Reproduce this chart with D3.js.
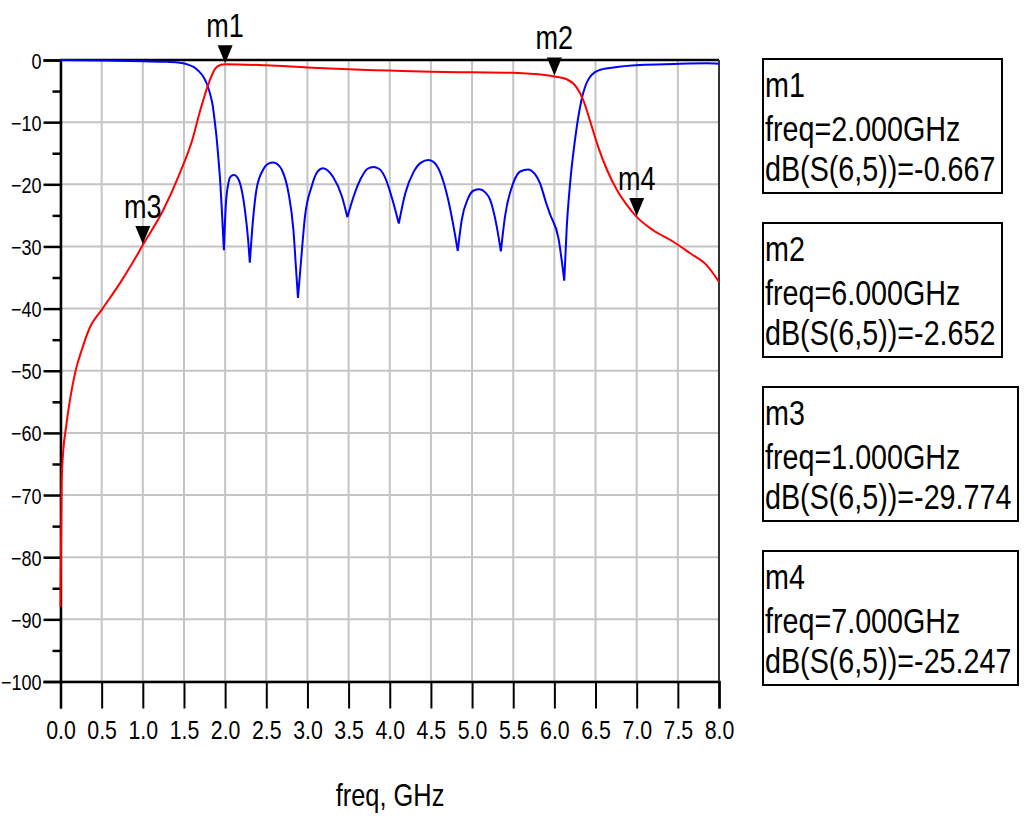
<!DOCTYPE html>
<html><head><meta charset="utf-8">
<script src="https://cdn.jsdelivr.net/npm/d3@7/dist/d3.min.js"></script>
<style>
html,body{margin:0;padding:0;background:#fff;}
svg text{font-family:"Liberation Sans",Arial,sans-serif;fill:#000;}
</style></head>
<body>
<svg id="chart" width="1024" height="824"></svg>
<script>
// ---- data ----
const xTicks = [0,0.5,1,1.5,2,2.5,3,3.5,4,4.5,5,5.5,6,6.5,7,7.5,8];
const xTickLabels = ["0.0","0.5","1.0","1.5","2.0","2.5","3.0","3.5","4.0","4.5","5.0","5.5","6.0","6.5","7.0","7.5","8.0"];
const yTicks = [0,-10,-20,-30,-40,-50,-60,-70,-80,-90,-100];
const yMinorTicks = [-5,-15,-25,-35,-45,-55,-65,-75,-85,-95];
const xTitle = "freq, GHz";

// dB(S(6,5)) - red
const s65Freq = [0.000,0.006,0.014,0.034,0.063,0.115,0.185,0.257,0.358,0.5,0.723,0.85,1.0,1.25,1.45,1.6,1.7,1.8,1.88,1.95,2.0,2.5,3.0,3.5,4.0,4.5,5.0,5.5,5.75,6.0,6.15,6.27,6.35,6.43,6.53,6.64,6.76,6.88,7.0,7.2,7.44,7.65,7.85,8.0];
const s65dB   = [-88,-79,-68,-62.8,-59.5,-54.7,-49.9,-46.7,-43.0,-40.2,-35.9,-33.2,-29.774,-24.1,-18.2,-12.9,-8.0,-3.75,-1.4,-0.75,-0.667,-0.85,-1.2,-1.5,-1.7,-1.9,-1.98,-2.05,-2.25,-2.652,-3.1,-4.4,-6.4,-9.65,-13.9,-17.7,-20.9,-23.3,-25.247,-27.4,-29.2,-31.1,-33.0,-35.7];

// reflection trace - blue
const s55Freq = [0.0,0.5,1.0,1.3,1.45,1.55,1.62,1.68,1.735,1.78,1.816,1.85,1.877,1.9,1.917,1.94,1.958,1.985,2.007,2.04,2.07,2.11,2.15,2.18,2.24,2.28,2.30,2.335,2.38,2.46,2.52,2.585,2.64,2.69,2.77,2.83,2.86,2.885,2.92,2.97,3.05,3.12,3.19,3.25,3.31,3.42,3.485,3.56,3.66,3.73,3.80,3.87,3.94,4.04,4.11,4.19,4.29,4.38,4.47,4.54,4.61,4.71,4.79,4.826,4.875,4.95,5.02,5.09,5.16,5.22,5.30,5.35,5.40,5.50,5.59,5.68,5.76,5.825,5.90,5.95,6.05,6.12,6.15,6.19,6.25,6.33,6.41,6.53,6.72,7.04,7.45,7.85,8.0];
const s55dB   = [0,-0.08,-0.2,-0.3,-0.45,-0.75,-1.15,-1.8,-2.7,-3.9,-5.4,-7.4,-10.2,-13.0,-15.6,-19.5,-23.6,-30.6,-23.6,-19.8,-18.7,-18.5,-18.9,-19.8,-24.1,-29,-32.6,-26.3,-20.9,-17.7,-16.7,-16.5,-16.8,-17.7,-21.4,-27.4,-33.3,-38.3,-32.7,-25.2,-20.4,-18.0,-17.4,-17.8,-18.8,-22.0,-25.3,-22.0,-18.8,-17.5,-17.2,-17.5,-18.8,-22.8,-26.3,-21.4,-18.0,-16.5,-16.1,-16.5,-18.0,-22.5,-27.9,-30.7,-25.7,-22.3,-21.0,-20.8,-21.3,-22.5,-26.8,-30.8,-25.2,-19.8,-17.9,-17.6,-18.3,-19.8,-23.0,-24.9,-28.7,-35.5,-27,-20,-12.9,-6.4,-3.2,-1.7,-1.2,-0.8,-0.64,-0.54,-0.6];

// markers
const markerNames = ["m1","m2","m3","m4"];
const markerFreq  = [2.0,6.0,1.0,7.0];
const markerDB    = [-0.667,-2.652,-29.774,-25.247];

// ---- layout ----
const NARROW = 0.82;
const svg = d3.select("#chart");
const x = d3.scaleLinear().domain([0,8]).range([60.5,719]);
const y = d3.scaleLinear().domain([-100,0]).range([681.5,60]);
const gridColor = "#c4c4c4";

function ntext(parent, tx, ty, str, size, anchor){
  return parent.append("text")
    .attr("transform",`translate(${tx},${ty}) scale(${NARROW},1)`)
    .attr("text-anchor",anchor||"start").attr("font-size",size).text(str);
}

// grid
const grid = svg.append("g");
grid.selectAll("line.gx").data(xTicks).join("line")
  .attr("x1",d=>x(d)).attr("x2",d=>x(d)).attr("y1",y(0)).attr("y2",y(-100))
  .attr("stroke",gridColor).attr("stroke-width",2);
grid.selectAll("line.gy").data(yTicks).join("line")
  .attr("x1",x(0)).attr("x2",x(8)).attr("y1",d=>y(d)).attr("y2",d=>y(d))
  .attr("stroke",gridColor).attr("stroke-width",2);

// x axis
const xAxis = d3.axisBottom(x).tickValues(xTicks).tickSize(27).tickFormat("");
const gx = svg.append("g").attr("transform",`translate(0,${y(-100)})`).call(xAxis);
gx.select(".domain").attr("stroke","#000").attr("stroke-width",2.5);
gx.selectAll(".tick line").attr("stroke","#000").attr("stroke-width",2);
gx.selectAll(".tick").each(function(d,i){
  ntext(d3.select(this), 0, 57, xTickLabels[i], 26, "middle");
});

// y axis
const yAxis = d3.axisLeft(y).tickValues(yTicks).tickSize(17).tickFormat("");
const gy = svg.append("g").attr("transform",`translate(${x(0)},0)`).call(yAxis);
gy.select(".domain").attr("stroke","#000").attr("stroke-width",2.5);
gy.selectAll(".tick line").attr("stroke","#000").attr("stroke-width",2.5);
gy.selectAll(".tick").each(function(d){
  ntext(d3.select(this), -19, 8, d3.format("d")(d), 22, "end");
});
const yAxisMinor = d3.axisLeft(y).tickValues(yMinorTicks).tickSize(8).tickFormat("");
const gym = svg.append("g").attr("transform",`translate(${x(0)},0)`).call(yAxisMinor);
gym.select(".domain").remove();
gym.selectAll(".tick line").attr("stroke","#000").attr("stroke-width",2.5);

// frame top & right
svg.append("line").attr("x1",x(0)).attr("x2",x(8)).attr("y1",y(0)).attr("y2",y(0))
  .attr("stroke","#000").attr("stroke-width",2.5);
svg.append("line").attr("x1",x(8)).attr("x2",x(8)).attr("y1",y(0)).attr("y2",y(-100))
  .attr("stroke","#333").attr("stroke-width",2);

// traces
const line = d3.line().x(d=>x(d[0])).y(d=>y(d[1])).curve(d3.curveMonotoneX);
function splitAtDips(pts){
  const segs=[]; let cur=[pts[0]];
  for(let i=1;i<pts.length;i++){
    cur.push(pts[i]);
    if(i<pts.length-1 && pts[i][1]<pts[i-1][1] && pts[i][1]<pts[i+1][1]){
      segs.push(cur); cur=[pts[i]];
    }
  }
  segs.push(cur);
  return segs;
}
const bluePts = s55Freq.map((f,i)=>[f,s55dB[i]]);
const redPts = s65Freq.map((f,i)=>[f,s65dB[i]]);
svg.append("path").attr("d",splitAtDips(bluePts).map(s=>line(s)).join(""))
  .attr("fill","none").attr("stroke","#0000ff").attr("stroke-width",2).attr("stroke-linejoin","round");
svg.append("path").attr("d",line(redPts))
  .attr("fill","none").attr("stroke","#ff0000").attr("stroke-width",2).attr("stroke-linejoin","round");

// markers
const mk = svg.append("g");
markerNames.forEach((n,i)=>{
  const px=x(markerFreq[i]), py=y(markerDB[i]);
  mk.append("path").attr("d",`M${px},${py-1}L${px-7.5},${py-19}L${px+7.5},${py-19}Z`).attr("fill","#000");
  ntext(mk, px, py-27, n, 33, "middle");
});

// axis title
ntext(svg, 390, 806, xTitle, 31, "middle");

// legend boxes
const boxTop=[59,223,387,551], boxRight=[1002,1002,1018,1018];
markerNames.forEach((n,i)=>{
  const g=svg.append("g");
  g.append("rect").attr("x",763).attr("y",boxTop[i]).attr("width",boxRight[i]-763).attr("height",134)
    .attr("fill","none").attr("stroke","#000").attr("stroke-width",2);
  const lines=[n,`freq=${markerFreq[i].toFixed(3)}GHz`,`dB(S(6,5))=${markerDB[i].toFixed(3)}`];
  const offs=[38,82,122];
  lines.forEach((t,j)=>ntext(g, 765, boxTop[i]+offs[j], t, 35, "start"));
});
</script>
</body></html>
